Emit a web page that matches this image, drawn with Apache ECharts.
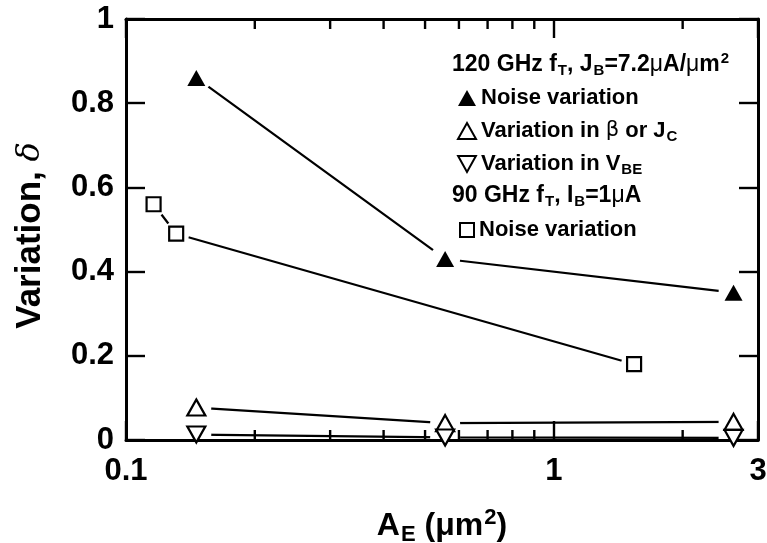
<!DOCTYPE html>
<html>
<head>
<meta charset="utf-8">
<script src="https://cdn.jsdelivr.net/npm/echarts@6/dist/echarts.min.js"></script>
<style>
html,body{margin:0;padding:0;background:#fff;}
#chart{width:767px;height:543px;}
</style>
</head>
<body>
<div id="chart"></div>
<script>
// ---- data ----
const xNoise120 = [0.146, 0.557, 2.63];
const yNoise120 = [0.86, 0.43, 0.35];
const xBeta = [0.146, 0.557, 2.63];
const yBeta = [0.077, 0.040, 0.043];
const xVbe = [0.146, 0.557, 2.63];
const yVbe = [0.013, 0.006, 0.005];
const xNoise90 = [0.116, 0.131, 1.54];
const yNoise90 = [0.56, 0.49, 0.18];
const xMinorTicks = [0.2, 0.3, 0.4, 0.5, 0.6, 0.7, 0.8, 0.9, 2];

const FONT = '"Liberation Sans", Arial, Helvetica, sans-serif';
const pairs = (xs, ys) => xs.map((x, i) => [x, ys[i]]);
const DOWN_TRI = 'path://M0,0L20,0L10,18Z';

const chart = echarts.init(document.getElementById('chart'), null, {renderer: 'canvas'});

function lineSeries(name, xs, ys) {
  return {
    name: name + '_line', type: 'line', data: pairs(xs, ys), showSymbol: false, symbol: 'none',
    lineStyle: {color: '#000', width: 2.2, opacity: 1}, z: 1, silent: true, animation: false
  };
}
function haloSeries(name, xs, ys, size) {
  return {
    name: name + '_halo', type: 'scatter', data: pairs(xs, ys), symbol: 'circle', symbolSize: size,
    itemStyle: {color: '#fff', opacity: 1}, z: 2, silent: true, animation: false
  };
}
function markSeries(name, xs, ys, symbol, size, filled) {
  return {
    name: name, type: 'scatter', data: pairs(xs, ys), symbol: symbol, symbolSize: size,
    itemStyle: filled ? {color: '#000', borderColor: '#000', borderWidth: 0, opacity: 1}
                      : {color: '#fff', borderColor: '#000', borderWidth: 2.2, opacity: 1},
    z: 5, silent: true, animation: false
  };
}
function tickSeries(name, yv, offset) {
  return {
    name: name, type: 'scatter', data: xMinorTicks.map(v => [v, yv]), symbol: 'rect',
    symbolSize: [2.4, 10], symbolOffset: [0, offset], itemStyle: {color: '#000', opacity: 1},
    z: 4, silent: true, animation: false
  };
}

const axisCommon = {
  axisLine: {show: true, onZero: false, lineStyle: {color: '#000', width: 3}},
  axisTick: {show: true, inside: true, length: 19, lineStyle: {color: '#000', width: 2.4}},
  splitLine: {show: false},
  z: 3
};

const labelStyle = {color: '#000', fontFamily: FONT, fontWeight: 'bold', fontSize: 31};

const richA = (size, lh) => ({fontFamily: FONT, fontWeight: 'bold', fontSize: size, color: '#000', lineHeight: lh});

const option = {
  backgroundColor: '#fff',
  animation: false,
  grid: {left: 126, right: 9, top: 19, bottom: 103, containLabel: false, outerBoundsMode: 'none'},
  xAxis: [
    Object.assign({}, axisCommon, {
      type: 'log', logBase: 10, min: 0.1, max: 3, position: 'bottom',
      axisLabel: Object.assign({}, labelStyle, {margin: 16, showMaxLabel: true, showMinLabel: true,
        formatter: v => String(+(+v).toPrecision(3))}),
      name: '{a|A}{sub|E}{a| (μm}{sup|2}{a|)}',
      nameLocation: 'middle', nameGap: 66,
      nameTextStyle: {color: '#000', fontFamily: FONT, fontWeight: 'bold', fontSize: 32,
        rich: {
          a: {fontFamily: FONT, fontWeight: 'bold', fontSize: 32, color: '#000'},
          sub: {fontFamily: FONT, fontWeight: 'bold', fontSize: 22, color: '#000', padding: [18, 0, 0, 1]},
          sup: {fontFamily: FONT, fontWeight: 'bold', fontSize: 22, color: '#000', padding: [0, 0, 16, 1]}
        }}
    }),
    Object.assign({}, axisCommon, {
      type: 'log', logBase: 10, min: 0.1, max: 3, position: 'top',
      axisLabel: {show: false}
    })
  ],
  yAxis: [
    Object.assign({}, axisCommon, {
      type: 'value', min: 0, max: 1, interval: 0.2, position: 'left',
      axisLabel: Object.assign({}, labelStyle, {margin: 12}),
      name: '{a|Variation, }{d|δ}',
      nameLocation: 'middle', nameGap: 78, nameRotate: 90,
      nameTextStyle: {color: '#000', fontFamily: FONT, fontWeight: 'bold', fontSize: 35,
        rich: {
          a: {fontFamily: FONT, fontWeight: 'bold', fontSize: 35, color: '#000'},
          d: {fontFamily: '"DejaVu Serif", "Liberation Serif", serif', fontStyle: 'italic', fontWeight: 'normal',
              fontSize: 32, color: '#000', padding: [0, 12, 0, 0]}
        }}
    }),
    Object.assign({}, axisCommon, {
      type: 'value', min: 0, max: 1, interval: 0.2, position: 'right',
      axisLabel: {show: false}
    })
  ],
  legend: [
    {
      data: [
        {name: 'Noise variation 120', icon: 'triangle'},
        {name: 'Variation in beta', icon: 'triangle'},
        {name: 'Variation in VBE', icon: DOWN_TRI}
      ],
      orient: 'vertical', left: 452, top: 78, itemWidth: 18, itemHeight: 16, itemGap: 3,
      selectedMode: false,
      textStyle: {color: '#000', fontFamily: FONT, fontWeight: 'bold', fontSize: 22, lineHeight: 30,
        rich: {
          a: richA(22, 30),
          g: {fontFamily: '"DejaVu Sans", sans-serif', fontWeight: 'normal', fontSize: 21, color: '#000', lineHeight: 30},
          sub: {fontFamily: FONT, fontWeight: 'bold', fontSize: 15, color: '#000', lineHeight: 18, padding: [12, 0, 0, 1]}
        }},
      formatter: function (n) {
        if (n === 'Noise variation 120') return '{a|Noise variation}';
        if (n === 'Variation in beta') return '{a|Variation in }{g|β}{a| or J}{sub|C}';
        return '{a|Variation in V}{sub|BE}';
      }
    },
    {
      data: [{name: 'Noise variation 90', icon: 'rect'}],
      orient: 'vertical', left: 454, top: 210, itemWidth: 14, itemHeight: 14,
      selectedMode: false,
      textStyle: {color: '#000', fontFamily: FONT, fontWeight: 'bold', fontSize: 22, lineHeight: 30},
      formatter: function () { return 'Noise variation'; }
    }
  ],
  graphic: [
    {
      type: 'text', left: 452, top: 51, silent: true,
      style: {
        text: '{a|120 GHz f}{sub|T}{a|, J}{sub|B}{a|=7.2}{m|μ}{a|A/}{m|μ}{a|m}{sup|2}',
        rich: {
          a: {fontFamily: FONT, fontWeight: 'bold', fontSize: 23, fill: '#000', lineHeight: 30},
          m: {fontFamily: FONT, fontWeight: 'normal', fontSize: 23, fill: '#000', lineHeight: 30},
          sub: {fontFamily: FONT, fontWeight: 'bold', fontSize: 15, fill: '#000', lineHeight: 18, padding: [12, 0, 0, 1]},
          sup: {fontFamily: FONT, fontWeight: 'bold', fontSize: 15, fill: '#000', lineHeight: 18, padding: [0, 0, 11, 1]}
        }
      }
    },
    {
      type: 'text', left: 452, top: 182, silent: true,
      style: {
        text: '{a|90 GHz f}{sub|T}{a|, I}{sub|B}{a|=1}{m|μ}{a|A}',
        rich: {
          a: {fontFamily: FONT, fontWeight: 'bold', fontSize: 23, fill: '#000', lineHeight: 30},
          m: {fontFamily: FONT, fontWeight: 'normal', fontSize: 23, fill: '#000', lineHeight: 30},
          sub: {fontFamily: FONT, fontWeight: 'bold', fontSize: 15, fill: '#000', lineHeight: 18, padding: [12, 0, 0, 1]}
        }
      }
    }
  ],
  series: [
    lineSeries('n120', xNoise120, yNoise120),
    lineSeries('beta', xBeta, yBeta),
    lineSeries('vbe', xVbe, yVbe),
    lineSeries('n90', xNoise90, yNoise90),
    haloSeries('n120', xNoise120, yNoise120, 30),
    haloSeries('beta', xBeta, yBeta, 30),
    haloSeries('vbe', xVbe, yVbe, 30),
    haloSeries('n90', xNoise90, yNoise90, 26),
    tickSeries('ticksBottom', 0, -5),
    Object.assign(tickSeries('ticksTop', 1, 5), {xAxisIndex: 1}),
    markSeries('Noise variation 120', xNoise120, yNoise120, 'triangle', [18, 16], true),
    markSeries('Variation in beta', xBeta, yBeta, 'triangle', [18, 16], false),
    markSeries('Variation in VBE', xVbe, yVbe, DOWN_TRI, [18, 16], false),
    markSeries('Noise variation 90', xNoise90, yNoise90, 'rect', [14, 14], false)
  ]
};
chart.setOption(option);
</script>
</body>
</html>
